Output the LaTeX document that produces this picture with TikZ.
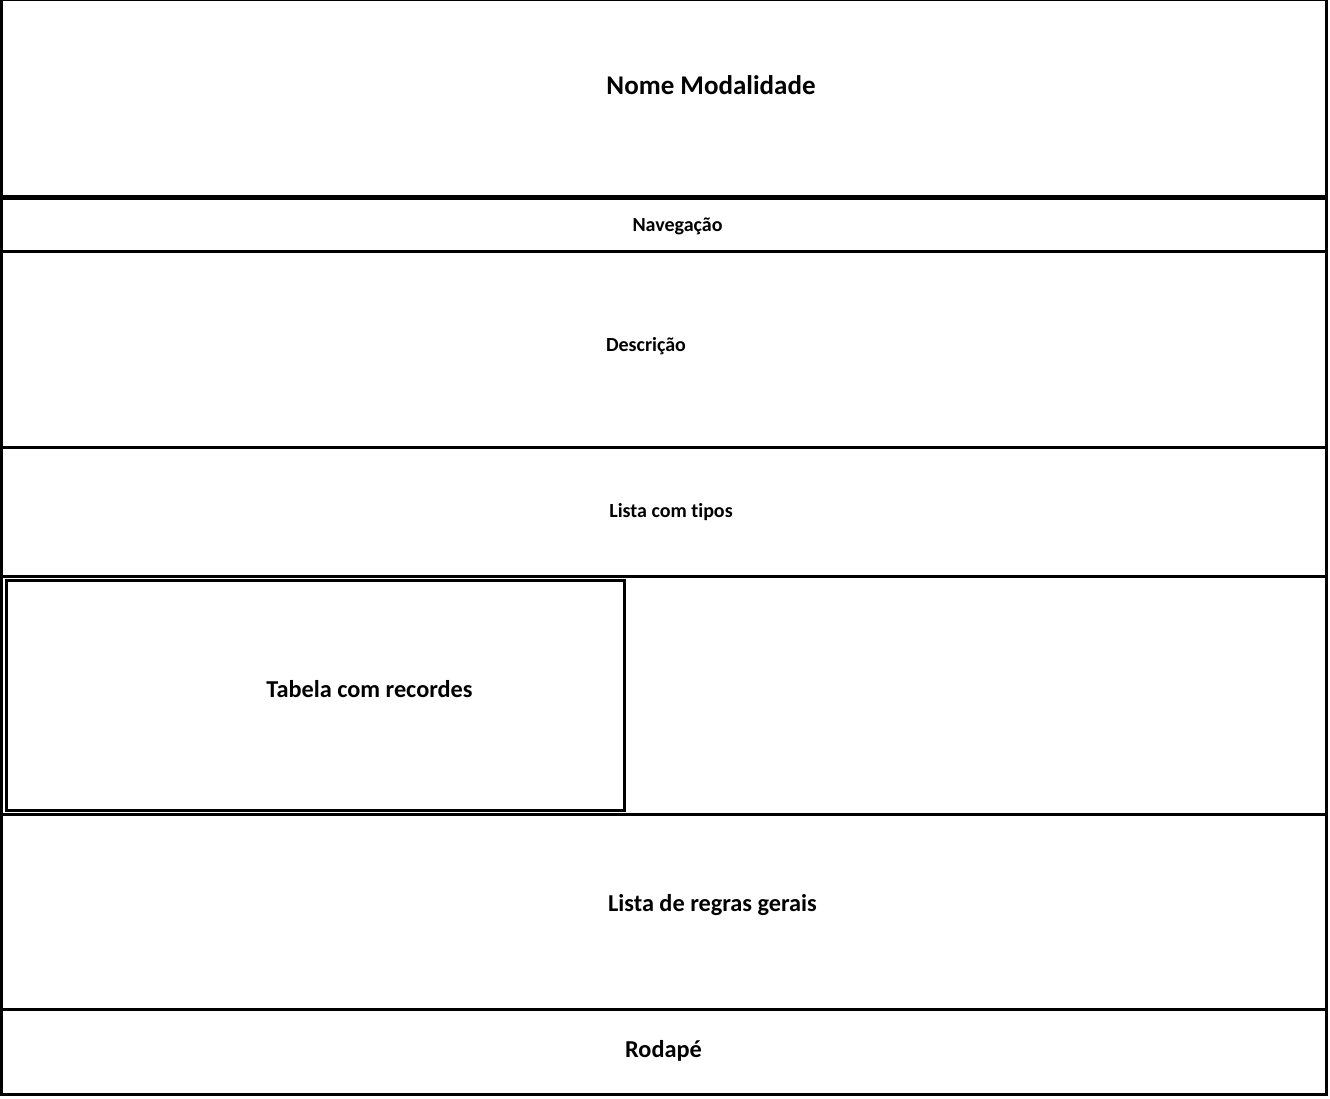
\documentclass[tikz,border=0pt]{standalone}
\usepackage{fontspec}
\setmainfont{Carlito}[Ligatures=NoCommon]
\begin{document}
\begin{tikzpicture}[x=1pt,y=-1pt,
  rule/.style={draw=black,line width=3pt},
  label/.style={anchor=base,inner sep=0pt},
  small/.style={label,font=\fontsize{20}{24}\selectfont\bfseries},
  large/.style={label,font=\fontsize{24.3}{29}\selectfont\bfseries}]
\useasboundingbox[fill=white] (0,0) rectangle (1330,1098);
% page frame
\draw[draw=black,line width=1.2pt] (0,0.6) -- (1327.5,0.6);
\draw[rule] (1.5,0) -- (1.5,1096);
\draw[rule] (1326.5,0) -- (1326.5,1096);
\draw[rule] (0,1094.5) -- (1328,1094.5);
% section dividers
\draw[draw=black,line width=5pt] (0,197) -- (1328,197);
\draw[rule] (0,251) -- (1328,251);
\draw[rule] (0,447) -- (1328,447);
\draw[draw=black,line width=2.5pt] (0,576.5) -- (1328,576.5);
\draw[rule] (0,814.5) -- (1328,814.5);
\draw[rule] (0,1009) -- (1328,1009);
% records table box
\draw[rule] (6,580.5) rectangle (624.5,810.5);
% section titles
\node[label,font=\fontsize{27}{32}\selectfont\bfseries] (titulo) at (711,94) {Nome Modalidade};
\node[small] (nav) at (677.5,231.5) {Navegação};
\node[small] (desc) at (646,351) {Descrição};
\node[small] (tipos) at (671,517) {Lista com tipos};
\node[large] (tabela) at (369.5,697) {Tabela com recordes};
\node[large] (regras) at (712.5,911) {Lista de regras gerais};
\node[large] (rodape) at (663.5,1057) {Rodapé};
\end{tikzpicture}
\end{document}
